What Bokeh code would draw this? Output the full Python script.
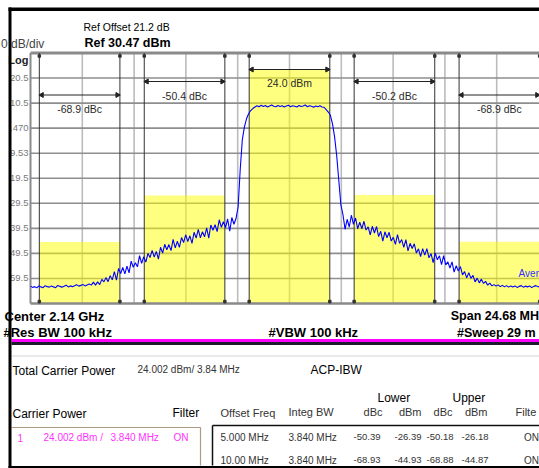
import numpy as np
from bokeh.plotting import figure
from bokeh.models import Range1d
from bokeh.core.properties import value
from bokeh.embed import file_html
from bokeh.resources import INLINE

# ------------------------------------------------------------------ data
ref_level = 30.47          # dBm, top graticule line
db_per_div = 10
n_div = 10
span_mhz = 24.68
y_tick_labels = ["20.5", "10.5", ".470", "9.53", "19.5", "29.5", "39.5", "49.5", "59.5"]

channel_offsets = [-10.0, -5.0, 0.0, 5.0, 10.0]   # MHz from centre
channel_bw = 3.84                                  # MHz
carrier_power = 24.002                             # dBm

offset_freqs = ["5.000 MHz", "10.00 MHz"]
integ_bw = ["3.840 MHz", "3.840 MHz"]
lower_dbc = [-50.39, -68.93]
lower_dbm = [-26.39, -44.93]
upper_dbc = [-50.18, -68.88]
upper_dbm = [-26.18, -44.87]
filters = ["ON", "ON"]

# measured trace (dBm), sweep points evenly spaced over the span
trace_dbm = [
    -62.6, -63.1, -62.8, -63.3, -62.5, -62.9, -63.2, -62.4, -62.8, -63.0,
    -62.5, -62.9, -63.2, -62.3, -62.7, -63.0, -62.6, -62.2, -62.9, -62.5,
    -62.8, -62.4, -62.0, -62.6, -62.3, -61.9, -62.5, -62.1, -61.7, -62.2,
    -61.0, -62.2, -60.9, -62.0, -59.9, -60.9, -59.2, -60.8, -58.4, -60.1,
    -56.8, -60.2, -55.5, -57.6, -55.1, -57.7, -54.6, -57.3, -52.6, -55.1,
    -53.3, -54.9, -50.4, -53.5, -50.8, -53.0, -49.5, -51.2, -48.3, -51.0,
    -48.7, -51.8, -47.1, -49.4, -45.9, -48.1, -46.0, -48.4, -43.9, -47.3,
    -44.7, -47.1, -43.2, -45.2, -42.1, -44.8, -42.5, -45.5, -41.1, -43.4,
    -39.9, -43.3, -40.9, -42.9, -39.3, -43.4, -38.2, -40.3, -38.1, -40.8,
    -36.1, -39.1, -36.9, -39.2, -35.8, -40.7, -35.2, -37.9, -35.6,
    -31.0, -16.0, -4.2, 1.0, 4.2, 6.2, 7.5, 8.3, 8.9,
    9.4, 9.0, 9.6, 9.1, 9.5, 8.9, 9.3, 9.7, 9.2, 9.0,
    9.5, 9.1, 9.4, 8.9, 9.3, 9.6, 9.0, 9.4, 9.2, 8.9,
    9.5, 9.1, 9.3, 9.7, 9.0, 9.4, 9.2, 8.8, 9.3, 9.0,
    9.4, 8.9,
    8.8, 7.9, 6.9, 5.6, 2.2, -3.0, -10.5, -20.3, -30.2,
    -34.1, -39.9, -35.9, -39.0, -34.3, -37.9, -35.4, -39.7, -37.1, -39.7,
    -36.7, -40.2, -38.9, -42.1, -38.7, -41.4, -38.8, -42.8, -40.7, -44.6,
    -40.9, -43.3, -41.1, -44.6, -43.1, -45.9, -42.0, -45.5, -44.0, -47.1,
    -44.0, -48.5, -45.5, -47.6, -45.7, -49.4, -47.7, -50.8, -47.6, -50.2,
    -47.6, -51.3, -49.6, -53.2, -49.4, -52.1, -50.5, -54.0, -50.4, -54.1,
    -52.9, -55.4, -52.9, -57.0, -54.4, -56.6, -54.8, -58.1, -56.8, -59.3,
    -57.2, -59.5, -58.3, -60.9, -59.4, -61.3, -59.8, -61.5, -60.7, -62.2,
    -61.4, -62.5,
    -62.0, -62.6, -62.1, -62.8, -62.3, -62.9, -62.4, -63.0, -62.5,
    -62.9, -62.5, -63.1, -62.7, -62.4, -63.0, -62.6, -62.9, -62.5, -63.2,
    -62.7, -62.4, -62.9, -62.6, -63.0, -62.5, -62.8, -62.6,
]

# derived values
freq = np.linspace(-span_mhz / 2, span_mhz / 2, len(trace_dbm))
channel_power = [lower_dbm[1], lower_dbm[0], carrier_power, upper_dbm[0], upper_dbm[1]]
channel_text = [f"{lower_dbc[1]:.1f} dBc", f"{lower_dbc[0]:.1f} dBc", f"{carrier_power:.1f} dBm",
                f"{upper_dbc[0]:.1f} dBc", f"{upper_dbc[1]:.1f} dBc"]
bottom_level = ref_level - n_div * db_per_div

# ------------------------------------------------------------------ layout (page pixels)
W, H = 539, 468
X0, Y0 = 0, 0
X1, Y1 = X0 + W, Y0 + H
PL, PR, PT, PB = 30.0, 548.0, 52.5, 303.0
px_per_mhz = (PR - PL) / span_mhz
px_per_db = (PB - PT) / (n_div * db_per_div)
bracket_y = [94.5, 81.0, 69.0, 81.0, 94.5]
label_y = [108.0, 95.5, 82.0, 95.5, 108.0]

FONT = "'Liberation Sans', Arial, sans-serif"

p = figure(width=W, height=H, x_range=Range1d(X0, X1), y_range=Range1d(Y1, Y0),
           min_border=0, toolbar_location=None, output_backend="svg",
           x_axis_location=None, y_axis_location=None,
           background_fill_color="white", border_fill_color="white")
p.outline_line_color = None
p.grid.visible = False
p.extra_x_ranges = {"f": Range1d(-span_mhz / 2 - (PL - X0) / px_per_mhz,
                                 -span_mhz / 2 + (X1 - PL) / px_per_mhz)}
p.extra_y_ranges = {"d": Range1d(bottom_level - (Y1 - PB) / px_per_db,
                                 ref_level + (PT - Y0) / px_per_db)}


def txt(x, y, s, size, color="black", align="left", bold=False, xr="default", yr="default"):
    p.text(x=[x], y=[y], text=[s], x_range_name=xr, y_range_name=yr,
           text_font=value(FONT), text_font_size=f"{size}px", text_color=color,
           text_align=align, text_baseline="middle",
           text_font_style="bold" if bold else "normal")


def seg(x0, y0, x1, y1, color, width, xr="default", yr="default"):
    p.segment(x0=x0, y0=y0, x1=x1, y1=y1, line_color=color, line_width=width,
              x_range_name=xr, y_range_name=yr)


def box(l, r, t, b, color):
    p.quad(left=[l], right=[r], top=[t], bottom=[b], fill_color=color, line_color=None)


# ---- graticule
vg = [-span_mhz / 2 + k * span_mhz / n_div for k in range(1, n_div)]
seg(vg, [PT] * len(vg), vg, [PB] * len(vg), "#bcbcbc", 1.6, xr="f")
levels = [ref_level - k * db_per_div for k in range(1, n_div)]
seg([PL] * len(levels), levels, [X1] * len(levels), levels, "#8e8e8e", 1.6, yr="d")

# ---- channel power bars
p.quad(left=[c - channel_bw / 2 for c in channel_offsets],
       right=[c + channel_bw / 2 for c in channel_offsets],
       top=channel_power, bottom=[bottom_level] * len(channel_offsets),
       x_range_name="f", y_range_name="d",
       fill_color="#ffff00", fill_alpha=0.5, line_color=None)

# ---- frame
seg([PL], [PT], [X1], [PT], "#8a8a8a", 3)
seg([PL], [PT], [PL], [PB], "#8a8a8a", 2)
seg([PL], [PB], [X1], [PB], "#8a8a8a", 2.5)

# ---- channel edges, brackets, labels
edges = []
for c in channel_offsets:
    edges += [c - channel_bw / 2, c + channel_bw / 2]
seg(edges, [PT] * len(edges), edges, [PB] * len(edges), "#333333", 1, xr="f")
p.scatter(edges, [PT + 3] * len(edges), marker="square", size=2.5, color="#333333", x_range_name="f")
p.scatter(edges, [PB - 2] * len(edges), marker="square", size=2.5, color="#333333", x_range_name="f")
for c, by, ly, s in zip(channel_offsets, bracket_y, label_y, channel_text):
    lo, hi = c - channel_bw / 2, c + channel_bw / 2
    seg([lo], [by], [hi], [by], "#222222", 1, xr="f")
    p.scatter([lo + 0.12], [by], marker="triangle", angle=np.pi / 2, size=5, color="#222222", x_range_name="f")
    p.scatter([hi - 0.12], [by], marker="triangle", angle=-np.pi / 2, size=5, color="#222222", x_range_name="f")
    txt(c, ly, s, 10.5, "#2a2a2a", align="center", xr="f")

# ---- trace
p.line(freq, trace_dbm, x_range_name="f", y_range_name="d", line_color="#0000ff", line_width=1.1)
txt(538.5, 273, "Aver", 10, "#3030ff", align="right")

# ---- y labels and header
for lvl, s in zip(levels, y_tick_labels):
    txt(28, lvl, s, 9.5, "#7a7a7a", align="right", yr="d")
txt(28, 59.5, "Log", 11, "#222222", align="right", bold=True)
txt(83, 26.5, "Ref Offset 21.2 dB", 10.5)
txt(84, 42.5, f"Ref {ref_level:.2f} dBm", 12.5, bold=True)
txt(0.5, 43.5, "0 dB/div", 12, "#444444")

# ---- footer
txt(4, 315.5, "Center 2.14 GHz", 13, bold=True)
txt(3, 332, "#Res BW  100 kHz", 13, bold=True)
txt(268, 332, "#VBW  100 kHz", 13, bold=True)
txt(538.5, 315.5, "Span 24.68 MH", 12.5, bold=True, align="right")
txt(538.5, 332, "#Sweep  29 m", 12.5, bold=True, align="right")
box(11, X1, 338.5, 341.5, "#ff00ff")
box(11, X1, 341.5, 344.5, "#1c1c2c")
seg([11], [355.5], [X1], [355.5], "#d4d4d4", 1)

# ---- result table
txt(12, 370, "Total Carrier Power", 12)
txt(137, 369, f"{carrier_power:.3f} dBm/ {channel_bw:.2f} MHz", 10, "#333333")
txt(310, 369, "ACP-IBW", 12)
txt(377, 397, "Lower", 12)
txt(452, 397, "Upper", 12)
txt(12, 413, "Carrier Power", 12)
txt(172, 412, "Filter", 12)
txt(220, 412, "Offset Freq", 11, "#333333")
txt(288, 411, "Integ BW", 11, "#333333")
txt(382, 411, "dBc", 11, "#333333", align="right")
txt(421, 411, "dBm", 11, "#333333", align="right")
txt(452, 411, "dBc", 11, "#333333", align="right")
txt(487, 411, "dBm", 11, "#333333", align="right")
txt(515, 411, "Filte", 11, "#333333")

for row_y, of, ib, ld, lm, ud, um, fl in zip([436.5, 459.5], offset_freqs, integ_bw,
                                              lower_dbc, lower_dbm, upper_dbc, upper_dbm, filters):
    txt(220, row_y, of, 10, "#333333")
    txt(288, row_y, ib, 10, "#333333")
    txt(380, row_y, f"{ld:.2f}", 9.5, "#333333", align="right")
    txt(421, row_y, f"{lm:.2f}", 9.5, "#333333", align="right")
    txt(453, row_y, f"{ud:.2f}", 9.5, "#333333", align="right")
    txt(488, row_y, f"{um:.2f}", 9.5, "#333333", align="right")
    txt(538.5, row_y, fl, 10, "#333333", align="right")

MAG = "#ff33ff"
txt(17, 437, "1", 10, MAG)
txt(43, 437, f"{carrier_power:.3f} dBm /", 10, MAG)
txt(110, 437, f"{channel_bw:.3f} MHz", 10, MAG)
txt(173, 437, "ON", 10, MAG)

seg([11], [427], [200], [427], "#b09a84", 1.2)
seg([200], [427], [200], [465], "#b09a84", 1.2)
seg([212], [425], [X1], [425], "#111111", 1.5)
seg([212], [425], [212], [465], "#111111", 1.5)

# ---- outer black screen edges
box(8, X1, 465.5, 468, "#000000")
box(8, X1, 7, 10.5, "#000000")
box(8, 11, 7, 468, "#000000")

open("out.html", "w").write(file_html(p, INLINE))
